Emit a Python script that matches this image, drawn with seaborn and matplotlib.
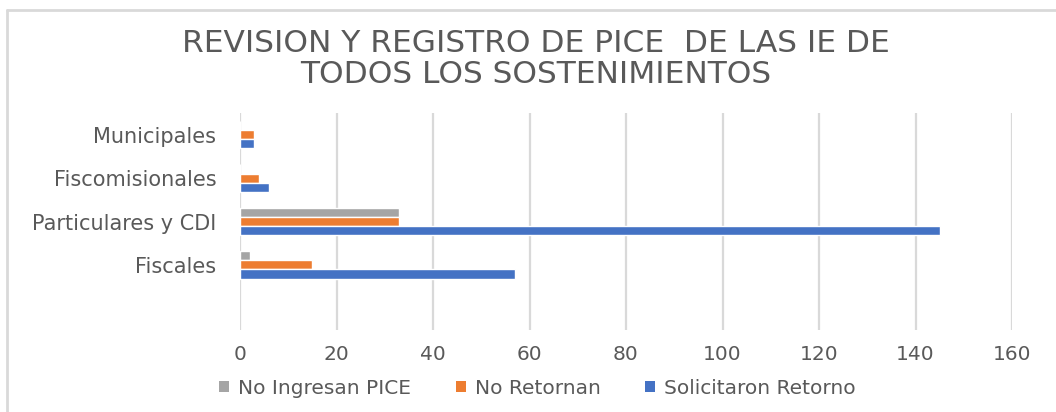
import matplotlib

matplotlib.use("Agg")

import matplotlib.pyplot as plt
import pandas as pd
import seaborn as sns
from matplotlib.lines import Line2D
from matplotlib.patches import Patch

categories = ["Municipales", "Fiscomisionales", "Particulares y CDI", "Fiscales", " "]
series = ["No Ingresan PICE", "No Retornan", "Solicitaron Retorno"]
no_ingresan = [0, 0, 33, 2]
no_retornan = [3, 4, 33, 15]
solicitaron = [3, 6, 145, 57]
x_ticks = [0, 20, 40, 60, 80, 100, 120, 140, 160]
title = "REVISION Y REGISTRO DE PICE  DE LAS IE DE\nTODOS LOS SOSTENIMIENTOS"

colors = {"No Ingresan PICE": "#A5A5A5", "No Retornan": "#ED7D31", "Solicitaron Retorno": "#4472C4"}
text_color = "#595959"
grid_color = "#D9D9D9"

rows = []
for name, vals in zip(series, [no_ingresan, no_retornan, solicitaron]):
    for cat, v in zip(categories[:4], vals):
        rows.append({"cat": cat, "serie": name, "valor": v})
df = pd.DataFrame(rows)

sns.set_theme(style="white")
plt.rcParams["font.family"] = ["DejaVu Sans"]

fig = plt.figure(figsize=(10.56, 4.12), dpi=100)
ax = fig.add_axes([240 / 1056, 1 - 330 / 412, 772 / 1056, 217 / 412])

sns.barplot(
    data=df, y="cat", x="valor", hue="serie", order=categories, hue_order=series,
    palette=colors, orient="h", width=0.63, gap=0, ax=ax, legend=False,
    saturation=1, errorbar=None,
)

ax.set_xlim(0, 160)
ax.set_ylim(len(categories) - 0.5, -0.5)
ax.set_xticks(x_ticks)
ax.set_xticklabels([str(t) for t in x_ticks])
ax.set_xlabel("")
ax.set_ylabel("")
for s in ax.spines.values():
    s.set_visible(False)
ax.grid(axis="x", color=grid_color, linewidth=1.6)
ax.set_axisbelow(True)
ax.tick_params(axis="x", length=0, pad=11, labelsize=14.5, labelcolor=text_color)
ax.tick_params(axis="y", length=0, pad=17, labelsize=15, labelcolor=text_color)

fig.text(0.507, 1 - 59 / 412, title, ha="center", va="center", fontsize=22.5,
         color=text_color, linespacing=1.05)

handles = [Patch(facecolor=colors[s], edgecolor="none") for s in series]
fig.legend(handles, series, loc="center", bbox_to_anchor=(0.509, 1 - 388 / 412), ncol=3,
           frameon=False, fontsize=14.5, labelcolor=text_color, handlelength=0.5,
           handleheight=0.5, handletextpad=0.45, columnspacing=2.2)

# outer chart frame
fig.add_artist(Line2D([7 / 1056, 1], [1 - 10 / 412, 1 - 10 / 412], color=grid_color,
                      linewidth=2, transform=fig.transFigure))
fig.add_artist(Line2D([7 / 1056, 7 / 1056], [0, 1 - 10 / 412], color=grid_color,
                      linewidth=2, transform=fig.transFigure))

fig.savefig("out.png", dpi=100)
